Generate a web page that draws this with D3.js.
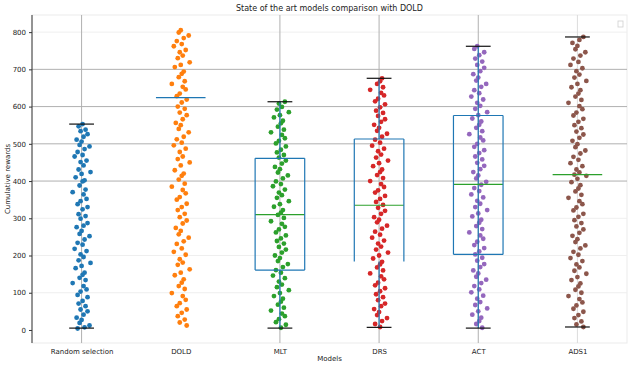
<!DOCTYPE html>
<html>
  <head>
    <title>State of the art models comparison</title>
    <style>
      body { margin: 0px; overflow: hidden; background: #fff; }
      text { font-family: "DejaVu Sans", sans-serif; fill: #222; }
    </style>
    <script src="https://d3js.org/d3.v7.min.js"></script>
  </head>
  <body>
    <svg width="640" height="366"></svg>
    <script>
      const models = ['Random selection', 'DOLD', 'MLT', 'DRS', 'ACT', 'ADS1'];
      const colors = ['#1f77b4', '#ff7f0e', '#2ca02c', '#d62728', '#9467bd', '#8c564b'];
      const yTicks = [0, 100, 200, 300, 400, 500, 600, 700, 800];

      // cumulative rewards per model
      const randomVals = [553, 547, 538, 534, 526, 519, 511, 506, 497, 493, 486, 478, 470, 466, 455, 451, 442, 431, 424, 419, 410, 402, 399, 388, 377, 370, 364, 352, 346, 338, 330, 324, 311, 306, 299, 287, 280, 276, 266, 258, 252, 243, 234, 229, 218, 212, 203, 196, 187, 180, 172, 166, 154, 148, 140, 134, 126, 118, 109, 103, 94, 88, 78, 71, 64, 55, 50, 41, 33, 27, 19, 12, 7, 4];
      const doldVals = [805, 799, 791, 784, 776, 768, 762, 752, 746, 737, 730, 719, 712, 706, 694, 688, 679, 668, 661, 653, 646, 635, 628, 619, 611, 600, 594, 584, 577, 566, 556, 550, 540, 531, 519, 512, 503, 496, 487, 478, 466, 459, 450, 442, 429, 420, 414, 404, 393, 385, 376, 367, 357, 350, 339, 330, 322, 312, 303, 294, 286, 274, 266, 257, 248, 238, 231, 219, 210, 202, 190, 181, 175, 163, 154, 147, 136, 127, 118, 110, 99, 91, 81, 72, 64, 55, 46, 37, 28, 20, 12];
      const mltVals = [613, 608, 599, 592, 585, 577, 571, 562, 555, 546, 538, 531, 524, 515, 508, 501, 493, 484, 477, 470, 463, 455, 447, 438, 432, 423, 415, 407, 399, 392, 386, 377, 369, 362, 355, 346, 338, 331, 322, 315, 309, 301, 292, 285, 277, 270, 262, 254, 246, 239, 232, 223, 216, 208, 200, 193, 185, 177, 169, 161, 154, 146, 139, 130, 122, 115, 107, 99, 91, 84, 76, 68, 60, 52, 44, 37, 29, 21, 14, 6];
      const drsVals = [676, 668, 661, 652, 645, 637, 630, 621, 614, 606, 598, 589, 583, 575, 566, 559, 551, 543, 535, 527, 519, 511, 503, 495, 487, 480, 471, 463, 455, 448, 440, 431, 424, 416, 408, 400, 392, 384, 375, 369, 360, 352, 344, 336, 328, 320, 312, 303, 296, 289, 280, 272, 264, 256, 248, 240, 232, 224, 216, 208, 200, 192, 183, 176, 168, 160, 152, 144, 136, 127, 120, 112, 104, 96, 88, 80, 71, 64, 56, 48, 40, 32, 24, 16, 8];
      const actVals = [762, 755, 746, 738, 729, 721, 712, 704, 695, 687, 678, 670, 661, 653, 644, 636, 627, 619, 610, 602, 594, 585, 577, 568, 560, 551, 543, 534, 526, 517, 509, 500, 492, 483, 475, 466, 458, 449, 441, 432, 424, 415, 407, 398, 390, 381, 373, 364, 356, 347, 339, 330, 322, 313, 305, 296, 288, 279, 271, 262, 254, 245, 237, 228, 220, 211, 203, 194, 186, 177, 169, 160, 152, 143, 135, 126, 118, 109, 101, 92, 84, 75, 67, 58, 50, 41, 33, 24, 16, 6];
      const ads1Vals = [787, 779, 771, 763, 754, 746, 737, 729, 720, 712, 703, 695, 686, 678, 669, 661, 652, 644, 635, 627, 618, 610, 601, 593, 584, 576, 567, 559, 550, 542, 533, 525, 516, 508, 499, 491, 482, 474, 465, 457, 448, 440, 431, 423, 417, 414, 406, 397, 389, 380, 372, 363, 355, 346, 338, 329, 321, 312, 304, 295, 287, 278, 270, 261, 253, 244, 236, 227, 219, 210, 202, 193, 185, 176, 168, 159, 151, 142, 134, 125, 117, 108, 100, 91, 83, 74, 66, 57, 49, 40, 32, 23, 15, 8];
      const values = [randomVals, doldVals, mltVals, drsVals, actVals, ads1Vals];

      // box summary (null = not drawn)
      const boxLow = [5, null, 5, 7, 5, 8];
      const boxQ1 = [null, 624, 161, 184, 203, null];
      const boxMed = [null, 624, 310, 335, 391, 417];
      const boxQ3 = [null, 624, 461, 513, 576, null];
      const boxHigh = [553, null, 613, 676, 762, 787];

      // horizontal offsets inside a category (fraction of step)
      const jitter = [0.01, -0.03, 0.04, -0.01, 0.06, 0.02, -0.05, 0.0, -0.02, 0.08, 0.03, -0.04, 0.01, -0.07, 0.05, -0.01, 0.02, -0.03, 0.09, 0.0, -0.06, 0.03, 0.01, -0.02, 0.04, -0.09, 0.02, 0.05, -0.01, -0.04, 0.06];

      const svg = d3.select('svg');
      const width = +svg.attr('width');
      const height = +svg.attr('height');
      const margin = { top: 15, right: 13, bottom: 23, left: 32 };

      const x = d3.scalePoint()
        .domain(models)
        .range([margin.left, width - margin.right])
        .padding(0.5);
      const step = x.step();

      const y = d3.scaleLinear()
        .domain([-35, 846])
        .range([height - margin.bottom, margin.top]);

      // frame
      svg.append('rect')
        .attr('x', margin.left).attr('y', margin.top)
        .attr('width', width - margin.left - margin.right)
        .attr('height', height - margin.top - margin.bottom)
        .attr('fill', 'none').attr('stroke', '#ebebeb');

      // grid
      svg.append('g').selectAll('line').data(yTicks.filter(d => d > 0))
        .join('line')
          .attr('x1', margin.left).attr('x2', width - margin.right)
          .attr('y1', d => y(d)).attr('y2', d => y(d))
          .attr('stroke', d => (d >= 400 && d <= 700) ? '#b0b0b0' : '#efefef')
          .attr('stroke-width', 1);

      svg.append('g').selectAll('line').data(models.filter(m => m !== 'DOLD'))
        .join('line')
          .attr('x1', d => x(d)).attr('x2', d => x(d))
          .attr('y1', margin.top).attr('y2', height - margin.bottom)
          .attr('stroke', d => d === 'ADS1' ? '#dcdcdc' : '#b0b0b0')
          .attr('stroke-width', 1);

      // points
      models.forEach((m, i) => {
        svg.append('g').selectAll('circle').data(values[i])
          .join('circle')
            .attr('cx', (d, j) => x(m) + jitter[(j + i * 7) % jitter.length] * step)
            .attr('cy', d => y(d))
            .attr('r', 2.4)
            .attr('fill', colors[i]);
      });

      // boxes
      const boxW = step * 0.5;
      const capW = step * 0.25;
      const bg = svg.append('g');
      const blue = '#1f77b4';
      models.forEach((m, i) => {
        const cx = x(m);
        const hline = (v, c, w) => bg.append('line')
          .attr('x1', cx - w / 2).attr('x2', cx + w / 2)
          .attr('y1', y(v)).attr('y2', y(v))
          .attr('stroke', c).attr('stroke-width', 1.2);
        const vline = (v1, v2, xx) => bg.append('line')
          .attr('x1', xx).attr('x2', xx)
          .attr('y1', y(v1)).attr('y2', y(v2))
          .attr('stroke', blue).attr('stroke-width', 1.2);

        if (boxQ1[i] !== null && boxQ1[i] !== boxQ3[i]) {
          if (m === 'ACT') {
            vline(boxLow[i], boxHigh[i], cx);
          } else {
            if (boxLow[i] !== null) vline(boxQ1[i], boxLow[i], cx);
            if (boxHigh[i] !== null) vline(boxQ3[i], boxHigh[i], cx);
          }
          hline(boxMed[i], '#2ca02c', boxW);
          vline(boxQ1[i], boxQ3[i], cx - boxW / 2);
          vline(boxQ1[i], boxQ3[i], cx + boxW / 2);
          hline(boxQ3[i], blue, boxW);
          if (m !== 'DRS') hline(boxQ1[i], blue, boxW);
        } else if (boxQ1[i] !== null) {
          hline(boxQ1[i], blue, boxW);
        } else if (boxMed[i] !== null) {
          hline(boxMed[i], '#2ca02c', boxW);
        }
        [boxLow[i], boxHigh[i]].forEach(v => {
          if (v !== null) hline(v, '#111', capW);
        });
      });

      // axes
      const yAxis = svg.append('g')
        .attr('transform', `translate(${margin.left},0)`)
        .call(d3.axisLeft(y).tickValues(yTicks).tickSize(3).tickPadding(3));
      yAxis.select('.domain').attr('stroke', '#333').attr('d', `M0,${margin.top}V${height - margin.bottom}`);
      yAxis.selectAll('.tick line').attr('stroke', '#333');
      yAxis.selectAll('text').attr('font-size', 7).style('fill', '#222');

      const xAxis = svg.append('g')
        .attr('transform', `translate(0,${height - margin.bottom})`)
        .call(d3.axisBottom(x).tickSize(0).tickPadding(6));
      xAxis.select('.domain').remove();
      xAxis.selectAll('text').attr('font-size', 7).style('fill', '#222');

      // legend placeholder
      svg.append('rect')
        .attr('x', width - margin.right - 9).attr('y', margin.top + 6)
        .attr('width', 5).attr('height', 6)
        .attr('fill', '#fff').attr('stroke', '#cfcfcf').attr('stroke-width', 0.8);

      // labels
      svg.append('text')
        .attr('x', (margin.left + width - margin.right) / 2).attr('y', 11)
        .attr('text-anchor', 'middle').attr('font-size', 8)
        .text('State of the art models comparison with DOLD');
      svg.append('text')
        .attr('x', (margin.left + width - margin.right) / 2).attr('y', 361)
        .attr('text-anchor', 'middle').attr('font-size', 7)
        .text('Models');
      svg.append('text')
        .attr('transform', `translate(10,${(margin.top + height - margin.bottom) / 2}) rotate(-90)`)
        .attr('text-anchor', 'middle').attr('font-size', 7)
        .text('Cumulative rewards');
    </script>
  </body>
</html>
